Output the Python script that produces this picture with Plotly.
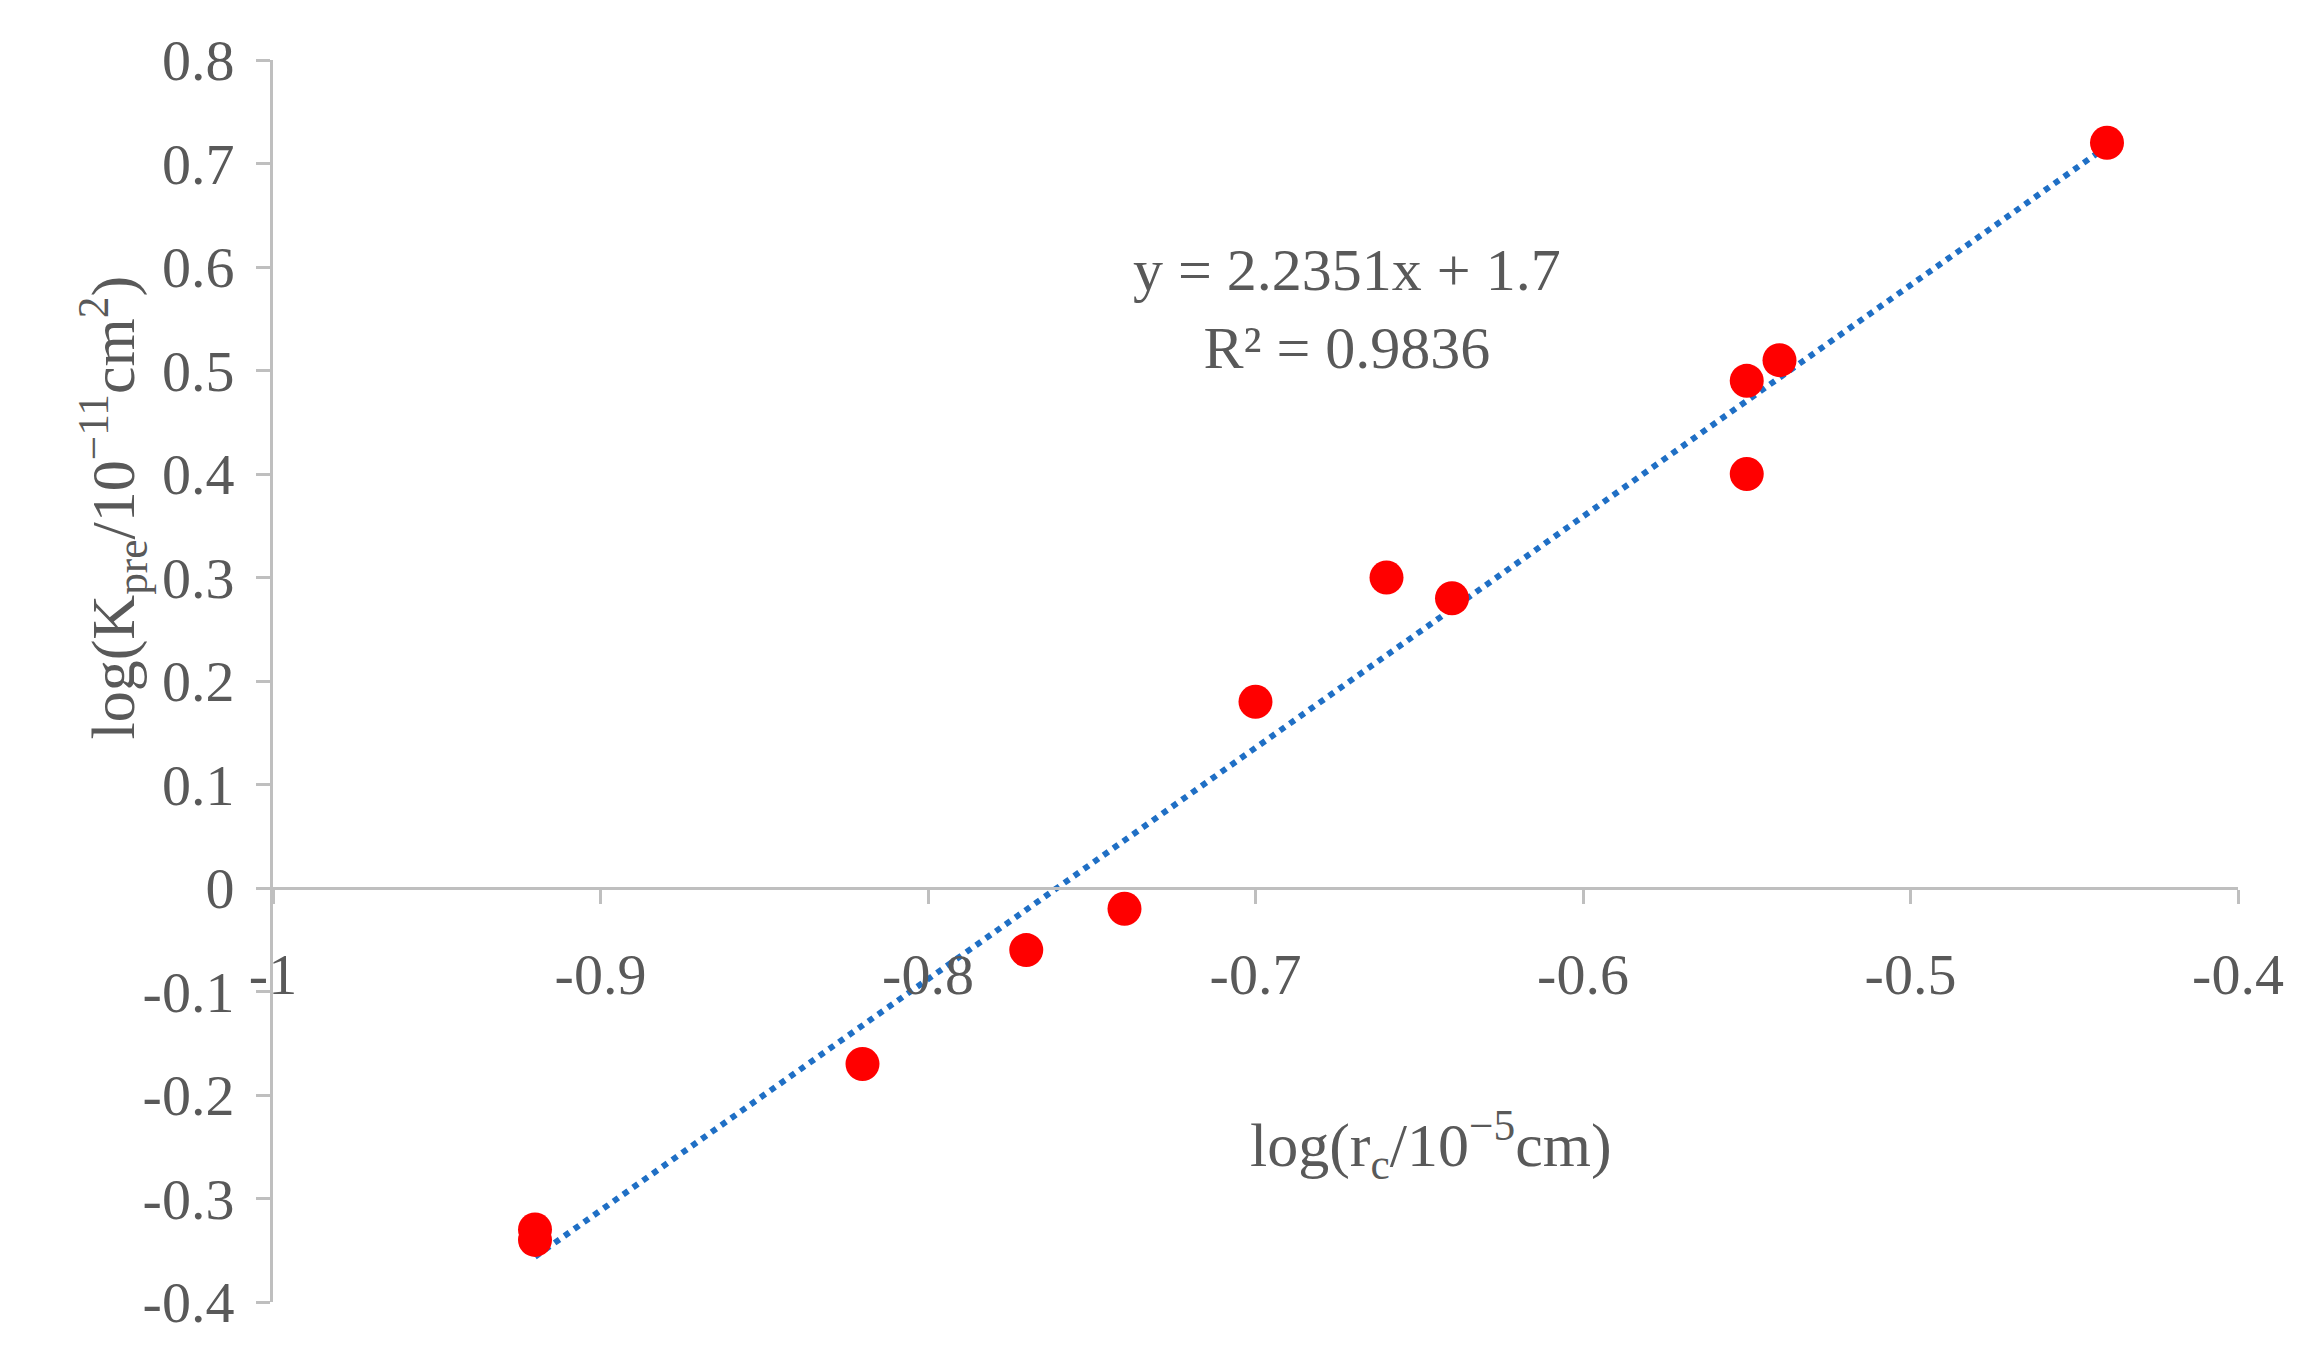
import plotly.graph_objects as go

# measured points
x_vals = [-0.92, -0.92, -0.82, -0.77, -0.74, -0.70, -0.66, -0.64, -0.55, -0.55, -0.54, -0.44]
y_vals = [-0.33, -0.34, -0.17, -0.06, -0.02, 0.18, 0.30, 0.28, 0.40, 0.49, 0.51, 0.72]

# linear trend (from the chart's equation)
slope, intercept = 2.2351, 1.7
trend_x = [min(x_vals), max(x_vals)]
trend_y = [slope * v + intercept for v in trend_x]

x_ticks = [-1, -0.9, -0.8, -0.7, -0.6, -0.5, -0.4]
x_labels = ["-1", "-0.9", "-0.8", "-0.7", "-0.6", "-0.5", "-0.4"]
y_ticks = [-0.4, -0.3, -0.2, -0.1, 0, 0.1, 0.2, 0.3, 0.4, 0.5, 0.6, 0.7, 0.8]
y_labels = ["-0.4", "-0.3", "-0.2", "-0.1", "0", "0.1", "0.2", "0.3", "0.4", "0.5", "0.6", "0.7", "0.8"]

grey = "#595959"
axis_grey = "#bfbfbf"
font = "Liberation Serif"

L, R, T, B = 265, 72, 52, 72
W, H = 2302, 1366

fig = go.Figure()
fig.add_trace(go.Scatter(x=trend_x, y=trend_y, mode="lines",
                         line=dict(color="#1f6fc5", width=6, dash="dot")))
fig.add_trace(go.Scatter(x=x_vals, y=y_vals, mode="markers",
                         marker=dict(color="#ff0000", size=34)))

fig.update_layout(
    width=W, height=H,
    margin=dict(l=L, r=R, t=T, b=B),
    plot_bgcolor="white", paper_bgcolor="white",
    showlegend=False,
    font=dict(family=font, size=58, color=grey),
    xaxis=dict(range=[-1, -0.4], tickvals=x_ticks, ticktext=x_labels,
               showgrid=False, zeroline=False, showline=True,
               linecolor=axis_grey, linewidth=3,
               ticks="outside", ticklen=14, tickcolor=axis_grey, tickwidth=3,
               ticklabelstandoff=20,
               anchor="free", position=1 / 3),
    yaxis=dict(range=[-0.4, 0.8], tickvals=y_ticks, ticktext=y_labels,
               showgrid=False, zeroline=False, showline=True,
               linecolor=axis_grey, linewidth=3,
               ticks="outside", ticklen=14, tickcolor=axis_grey, tickwidth=3,
               ticklabelstandoff=10),
)

pw, ph = W - L - R, H - T - B
fig.add_annotation(text="y = 2.2351x + 1.7<br>R² = 0.9836", xref="paper", yref="paper",
                   x=(1339 - L) / pw, y=1 - (227 - T) / ph,
                   showarrow=False, font=dict(size=60, color=grey), align="center")
fig.add_annotation(text="log(r<sub>c</sub>/10<sup>−5</sup>cm)", xref="paper", yref="paper",
                   x=(1423 - L) / pw, y=1 - (1182 - T) / ph,
                   showarrow=False, font=dict(size=62, color=grey))
fig.add_annotation(text="log(K<sub>pre</sub>/10<sup>−11</sup>cm<sup>2</sup>)", xref="paper", yref="paper",
                   x=-(L - 58) / pw, y=1 - (500 - T) / ph,
                   textangle=-90, showarrow=False, font=dict(size=62, color=grey))

fig.write_html("out.html")
